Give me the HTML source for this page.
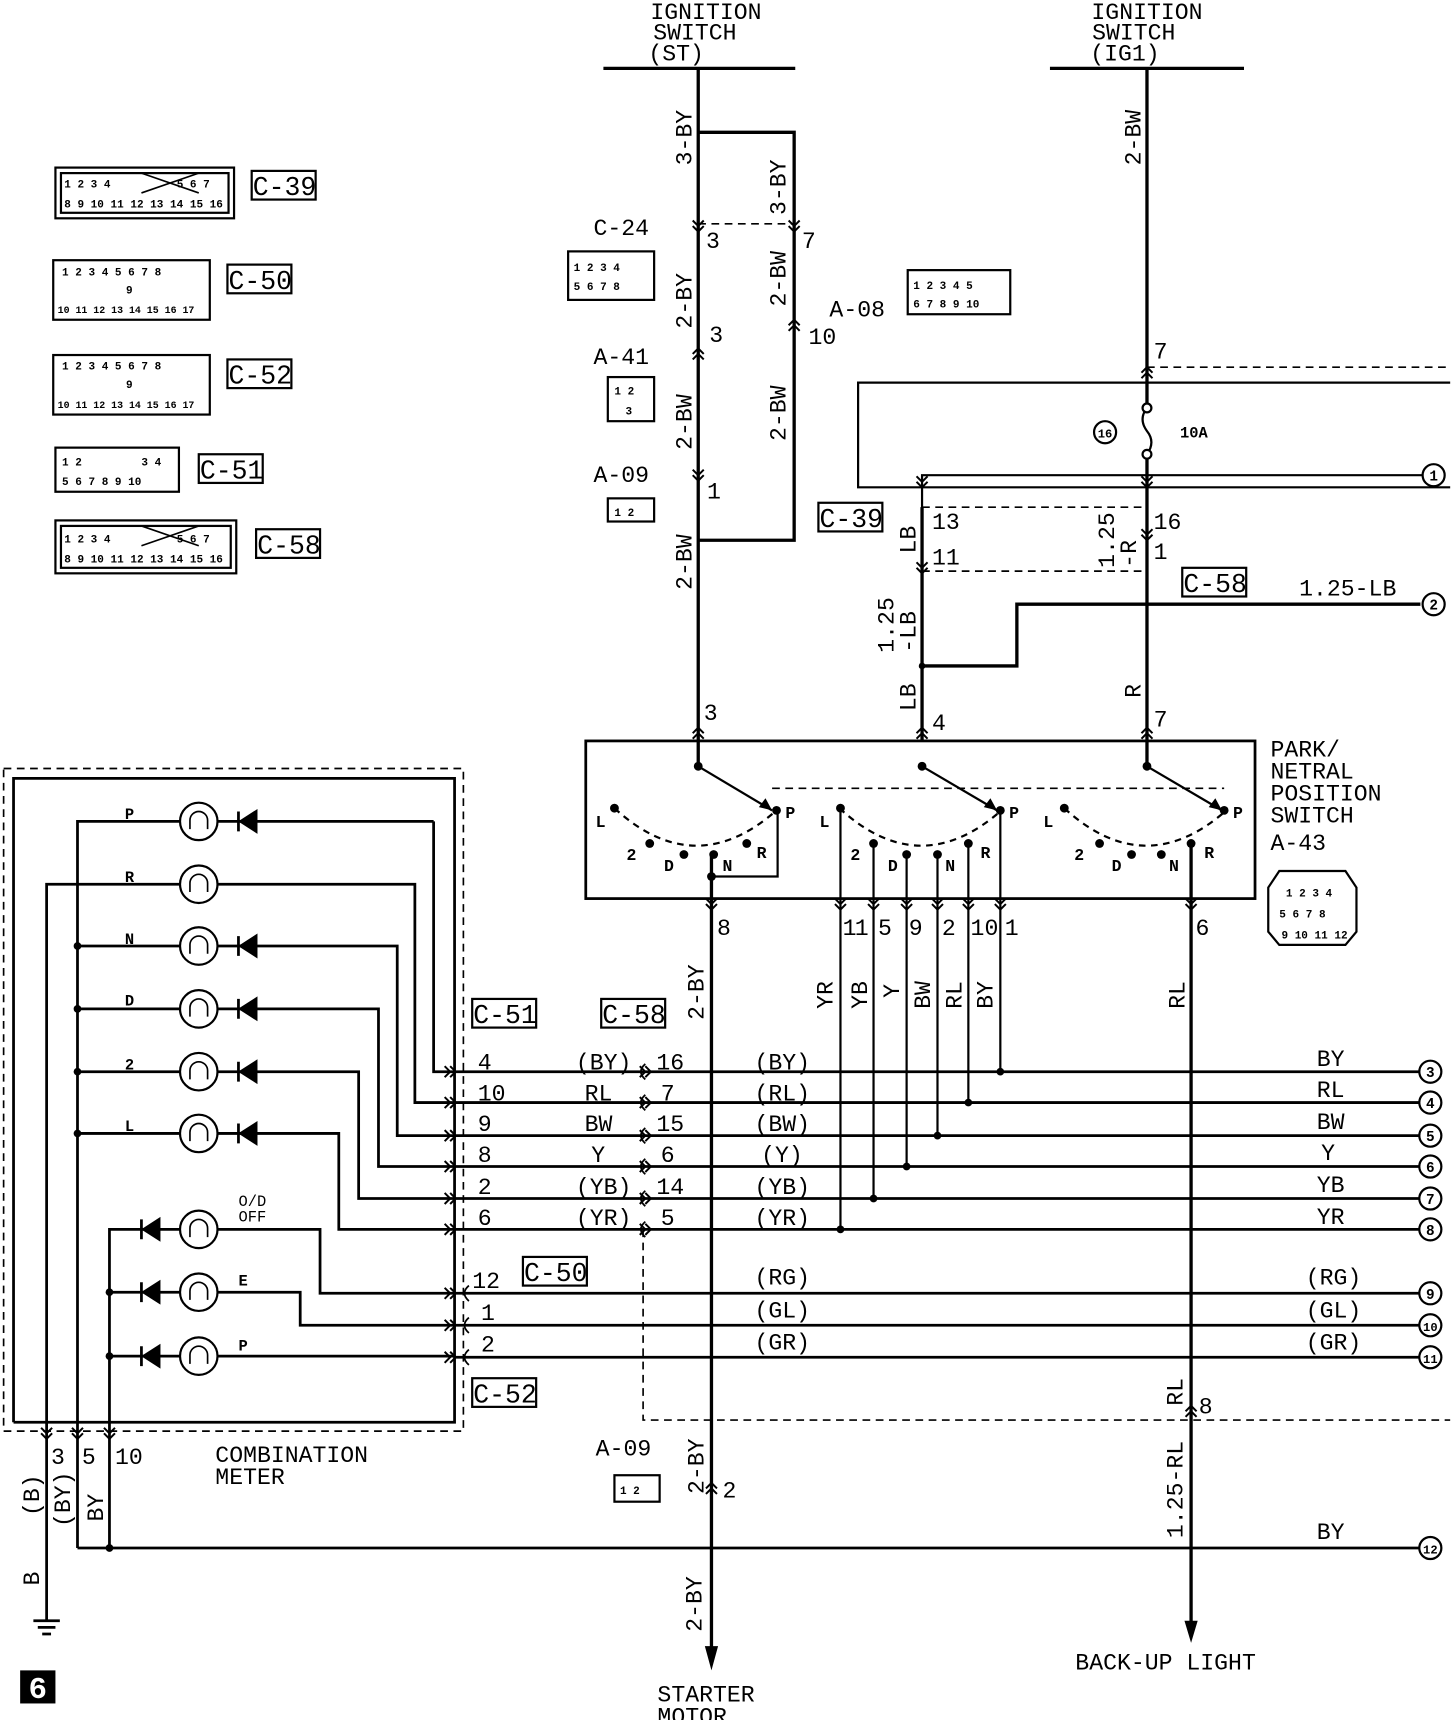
<!DOCTYPE html>
<html><head><meta charset="utf-8"><style>
html,body{margin:0;padding:0;background:#fff}
svg{display:block}
text{font-family:"Liberation Mono",monospace;fill:#000}
</style></head><body>
<svg width="1456" height="1720" viewBox="0 0 1320 1560" xmlns="http://www.w3.org/2000/svg">
<defs>
<g id="cd"><path d="M-5,-10 L0,-5 L5,-10 M-5,-5 L0,0 L5,-5" fill="none" stroke="#000" stroke-width="1.8"/></g>
<g id="cu"><path d="M-5,10 L0,5 L5,10 M-5,5 L0,0 L5,5" fill="none" stroke="#000" stroke-width="1.8"/></g>
<g id="cr"><path d="M-10,-5 L-5,0 L-10,5 M-5,-5 L0,0 L-5,5" fill="none" stroke="#000" stroke-width="1.8"/></g>
</defs>
<g stroke="#000" fill="none" stroke-width="3">
<!-- ignition ST -->
<line x1="547" y1="62" x2="721" y2="62"/>
<line x1="633" y1="62" x2="633" y2="695"/>
<polyline points="633,120 720,120 720,490 633,490"/>
<!-- IG1 -->
<line x1="952" y1="62" x2="1128" y2="62"/>
<line x1="1040" y1="62" x2="1040" y2="370"/>
<line x1="1040" y1="412" x2="1040" y2="695"/>
<line x1="1080" y1="765" x2="1080" y2="1475"/>
<line x1="645" y1="775" x2="645" y2="1500"/>
</g>
<g stroke="#000" fill="none" stroke-width="2">
<path d="M1040,370 q-8,10 0,21 q8,10 0,21"/>
<circle cx="1040" cy="370" r="4" fill="#fff"/><circle cx="1040" cy="412" r="4" fill="#fff"/>
<polyline points="1315,347 778,347 778,442 1315,442"/>
<polyline points="1290,431 836,431 836,672"/>
<polyline points="1288,548 922,548 922,604 836,604" stroke-width="3"/>
<line x1="836" y1="460" x2="836" y2="672" stroke-width="3"/>
</g>
<g stroke="#000" fill="none" stroke-width="1.5" stroke-dasharray="7,5">
<line x1="633" y1="203" x2="720" y2="203"/>
<line x1="1040" y1="333" x2="1315" y2="333"/>
<line x1="836" y1="460" x2="1040" y2="460"/>
<line x1="836" y1="518" x2="1040" y2="518"/>
<line x1="700" y1="715" x2="1110" y2="715"/>
<polyline points="583,1115 583,1288 1315,1288"/>
<rect x="3" y="697" width="417" height="601"/>
</g>
<!-- chevrons -->
<use href="#cd" x="633" y="210"/><use href="#cd" x="720" y="210"/>
<use href="#cu" x="633" y="316"/><use href="#cu" x="720" y="290"/>
<use href="#cd" x="633" y="436"/>
<use href="#cu" x="1040" y="333"/><use href="#cd" x="836" y="442"/><use href="#cd" x="1040" y="442"/>
<use href="#cd" x="836" y="520"/><use href="#cd" x="1040" y="490"/>
<use href="#cu" x="633" y="660"/><use href="#cu" x="836" y="660"/><use href="#cu" x="1040" y="660"/>
<use href="#cd" x="645" y="825"/><use href="#cd" x="762" y="825"/><use href="#cd" x="792" y="825"/><use href="#cd" x="822" y="825"/><use href="#cd" x="850" y="825"/><use href="#cd" x="878" y="825"/><use href="#cd" x="907" y="825"/><use href="#cd" x="1080" y="825"/>
<use href="#cu" x="645" y="1345"/><use href="#cu" x="1080" y="1275"/>
<use href="#cd" x="42" y="1305"/><use href="#cd" x="70" y="1305"/><use href="#cd" x="99" y="1305"/>
<path d="M645,1515 l-6,-22 h12z M1080,1490 l-6,-20 h12z"/>
<!-- switch -->
<rect x="531" y="672" width="607" height="143" fill="none" stroke="#000" stroke-width="2.5"/>
<g stroke="#000" stroke-width="2" fill="none">
<path d="M557,733 Q630,800 704,735" stroke-dasharray="6,5"/>
<path d="M761,733 Q834,800 908,735" stroke-dasharray="6,5"/>
<path d="M965,733 Q1038,800 1112,735" stroke-dasharray="6,5"/>
<line x1="633" y1="695" x2="700" y2="735"/><line x1="836" y1="695" x2="904" y2="735"/><line x1="1040" y1="695" x2="1108" y2="735"/>
<polyline points="645,795 705,795 705,735"/>
<line x1="762" y1="733" x2="762" y2="1115"/><line x1="792" y1="765" x2="792" y2="1087"/><line x1="822" y1="775" x2="822" y2="1058"/><line x1="850" y1="775" x2="850" y2="1030"/><line x1="878" y1="765" x2="878" y2="1002"/><line x1="907" y1="735" x2="907" y2="972"/>
</g>
<g fill="#000">
<circle cx="633" cy="695" r="4"/><circle cx="836" cy="695" r="4"/><circle cx="1040" cy="695" r="4"/>
<circle cx="557" cy="733" r="4"/><circle cx="589" cy="765" r="4"/><circle cx="620" cy="775" r="4"/><circle cx="647" cy="775" r="4"/><circle cx="677" cy="765" r="4"/><circle cx="704" cy="735" r="4"/><circle cx="645" cy="795" r="4"/>
<circle cx="762" cy="733" r="4"/><circle cx="792" cy="765" r="4"/><circle cx="822" cy="775" r="4"/><circle cx="850" cy="775" r="4"/><circle cx="878" cy="765" r="4"/><circle cx="907" cy="735" r="4"/>
<circle cx="965" cy="733" r="4"/><circle cx="997" cy="765" r="4"/><circle cx="1026" cy="775" r="4"/><circle cx="1053" cy="775" r="4"/><circle cx="1080" cy="765" r="4"/><circle cx="1110" cy="735" r="4"/>
<path d="M700,735 l-12,-3 l6,-8z M904,735 l-12,-3 l6,-8z M1108,735 l-12,-3 l6,-8z"/>
<circle cx="907" cy="972" r="3.5"/><circle cx="878" cy="1000" r="3.5"/><circle cx="850" cy="1030" r="3.5"/><circle cx="822" cy="1058" r="3.5"/><circle cx="792" cy="1087" r="3.5"/><circle cx="762" cy="1115" r="3.5"/>
<circle cx="70" cy="858" r="3.5"/><circle cx="70" cy="915" r="3.5"/><circle cx="70" cy="972" r="3.5"/><circle cx="70" cy="1028" r="3.5"/>
<circle cx="99" cy="1172" r="3.5"/><circle cx="99" cy="1230" r="3.5"/><circle cx="99" cy="1404" r="3.5"/>
<circle cx="836" cy="604" r="3"/>
</g>
<g font-size="15" font-weight="bold" font-family="Liberation Sans">
<text x="540" y="750">L</text><text x="568" y="780">2</text><text x="602" y="790">D</text><text x="655" y="790">N</text><text x="686" y="778">R</text><text x="712" y="742">P</text>
<text x="743" y="750">L</text><text x="771" y="780">2</text><text x="805" y="790">D</text><text x="857" y="790">N</text><text x="889" y="778">R</text><text x="915" y="742">P</text>
<text x="946" y="750">L</text><text x="974" y="780">2</text><text x="1008" y="790">D</text><text x="1060" y="790">N</text><text x="1092" y="778">R</text><text x="1118" y="742">P</text>
</g>
<!-- horizontal bus -->
<g stroke="#000" stroke-width="2.5">
<line x1="413" y1="972" x2="1288" y2="972"/><line x1="413" y1="1000" x2="1288" y2="1000"/><line x1="413" y1="1030" x2="1288" y2="1030"/><line x1="413" y1="1058" x2="1288" y2="1058"/><line x1="413" y1="1087" x2="1288" y2="1087"/><line x1="413" y1="1115" x2="1288" y2="1115"/>
<line x1="413" y1="1173" x2="1288" y2="1173"/><line x1="413" y1="1202" x2="1288" y2="1202"/><line x1="413" y1="1231" x2="1288" y2="1231"/>
<line x1="70" y1="1404" x2="1288" y2="1404"/>
</g>
<g fill="#fff" stroke="#000" stroke-width="2">
<circle cx="1300" cy="431" r="10"/><circle cx="1300" cy="548" r="10"/>
<circle cx="1297" cy="972" r="10"/><circle cx="1297" cy="1000" r="10"/><circle cx="1297" cy="1030" r="10"/><circle cx="1297" cy="1058" r="10"/><circle cx="1297" cy="1087" r="10"/><circle cx="1297" cy="1115" r="10"/><circle cx="1297" cy="1173" r="10"/><circle cx="1297" cy="1202" r="10"/><circle cx="1297" cy="1231" r="10"/><circle cx="1297" cy="1404" r="10"/>
<circle cx="1002" cy="392" r="10"/>
</g>
<g font-size="13" font-family="Liberation Sans" font-weight="bold" text-anchor="middle">
<text x="1300" y="436">1</text><text x="1300" y="553">2</text><text x="1297" y="977">3</text><text x="1297" y="1005">4</text><text x="1297" y="1035">5</text><text x="1297" y="1063">6</text><text x="1297" y="1092">7</text><text x="1297" y="1120">8</text><text x="1297" y="1178">9</text><text x="1297" y="1207" font-size="11">10</text><text x="1297" y="1236" font-size="11">11</text><text x="1297" y="1409" font-size="11">12</text><text x="1002" y="397" font-size="11">16</text>
</g>
<g stroke="#000" stroke-width="1.6">
<path d="M585,965 q-8,7 0,14 M585,993 q-8,7 0,14 M585,1023 q-8,7 0,14 M585,1051 q-8,7 0,14 M585,1080 q-8,7 0,14 M585,1108 q-8,7 0,14" fill="none"/>
<path d="M425,1166 q-8,7 0,14 M425,1195 q-8,7 0,14 M425,1224 q-8,7 0,14" fill="none"/>
</g>
<use href="#cr" x="413" y="972"/><use href="#cr" x="413" y="1000"/><use href="#cr" x="413" y="1030"/><use href="#cr" x="413" y="1058"/><use href="#cr" x="413" y="1087"/><use href="#cr" x="413" y="1115"/>
<use href="#cr" x="590" y="972"/><use href="#cr" x="590" y="1000"/><use href="#cr" x="590" y="1030"/><use href="#cr" x="590" y="1058"/><use href="#cr" x="590" y="1087"/><use href="#cr" x="590" y="1115"/>
<use href="#cr" x="413" y="1173"/><use href="#cr" x="413" y="1202"/><use href="#cr" x="413" y="1231"/>
<!-- meter -->
<g stroke="#000" stroke-width="2.5" fill="none">
<polyline points="12,1290 12,706 412,706 412,1290 12,1290"/>
<polyline points="70,1404 70,745 165,745"/><line x1="195" y1="745" x2="393" y2="745"/><polyline points="393,745 393,972 413,972"/>
<polyline points="42,1470 42,802 165,802"/><polyline points="195,802 376,802 376,1000 413,1000"/>
<line x1="70" y1="858" x2="165" y2="858"/><polyline points="195,858 360,858 360,1030 413,1030"/>
<line x1="70" y1="915" x2="165" y2="915"/><polyline points="195,915 343,915 343,1058 413,1058"/>
<line x1="70" y1="972" x2="165" y2="972"/><polyline points="195,972 325,972 325,1087 413,1087"/>
<line x1="70" y1="1028" x2="165" y2="1028"/><polyline points="195,1028 307,1028 307,1115 413,1115"/>
<polyline points="99,1404 99,1115 165,1115"/><polyline points="195,1115 290,1115 290,1173 413,1173"/>
<line x1="99" y1="1172" x2="165" y2="1172"/><polyline points="195,1172 272,1172 272,1202 413,1202"/>
<line x1="99" y1="1230" x2="165" y2="1230"/><line x1="195" y1="1230" x2="413" y2="1230"/>
<path d="M30,1470 h24 M34,1476 h16 M38,1482 h8"/>
</g>
<g stroke="#000" stroke-width="2" fill="#fff">
<circle cx="180" cy="745" r="17"/><circle cx="180" cy="802" r="17"/><circle cx="180" cy="858" r="17"/><circle cx="180" cy="915" r="17"/><circle cx="180" cy="972" r="17"/><circle cx="180" cy="1028" r="17"/>
<circle cx="180" cy="1115" r="17"/><circle cx="180" cy="1172" r="17"/><circle cx="180" cy="1230" r="17"/>
</g>
<g stroke="#000" stroke-width="1.5" fill="none">
<path d="M172,752 v-8 a8,8 0 0 1 16,0 v8 M172,809 v-8 a8,8 0 0 1 16,0 v8 M172,865 v-8 a8,8 0 0 1 16,0 v8 M172,922 v-8 a8,8 0 0 1 16,0 v8 M172,979 v-8 a8,8 0 0 1 16,0 v8 M172,1035 v-8 a8,8 0 0 1 16,0 v8 M172,1122 v-8 a8,8 0 0 1 16,0 v8 M172,1179 v-8 a8,8 0 0 1 16,0 v8 M172,1237 v-8 a8,8 0 0 1 16,0 v8"/>
</g>
<g fill="#000" stroke="#000" stroke-width="2.5">
<path d="M218,745 l14,-9 v18z M216,736 v18" />
<path d="M218,858 l14,-9 v18z M216,849 v18"/>
<path d="M218,915 l14,-9 v18z M216,906 v18"/>
<path d="M218,972 l14,-9 v18z M216,963 v18"/>
<path d="M218,1028 l14,-9 v18z M216,1019 v18"/>
<path d="M130,1115 l14,-9 v18z M128,1106 v18"/>
<path d="M130,1172 l14,-9 v18z M128,1163 v18"/>
<path d="M130,1230 l14,-9 v18z M128,1221 v18"/>
</g>
<rect x="18" y="1515" width="32" height="30" fill="#000"/>
<text x="34" y="1540" font-size="28" font-weight="bold" text-anchor="middle" font-family="Liberation Sans" style="fill:#fff">6</text>
<!-- connector icons -->
<g stroke="#000" stroke-width="2" fill="#fff">
<rect x="50" y="152" width="162" height="46"/><rect x="55" y="157" width="152" height="36"/>
<rect x="48" y="236" width="142" height="54"/><rect x="48" y="322" width="142" height="54"/>
<rect x="50" y="406" width="112" height="40"/>
<rect x="50" y="472" width="164" height="48"/><rect x="55" y="477" width="154" height="38"/>
<rect x="515" y="228" width="78" height="44"/><rect x="551" y="342" width="42" height="40"/><rect x="551" y="452" width="42" height="21"/><rect x="823" y="245" width="93" height="40"/>
<rect x="557" y="1338" width="41" height="24"/>
<path d="M1160,790 h60 l10,15 v40 l-10,12 h-60 l-10,-12 v-40z"/>
</g>
<g font-size="10" font-family="Liberation Sans" font-weight="bold" fill="#000">
<text x="58" y="170">1 2 3 4</text><text x="160" y="170">5 6 7</text><text x="58" y="188">8 9 10 11 12 13 14 15 16</text>
<text x="56" y="250">1 2 3 4 5 6 7 8</text><text x="114" y="266">9</text><text x="52" y="284" font-size="9">10 11 12 13 14 15 16 17</text>
<text x="56" y="335">1 2 3 4 5 6 7 8</text><text x="114" y="352">9</text><text x="52" y="370" font-size="9">10 11 12 13 14 15 16 17</text>
<text x="56" y="422">1 2</text><text x="128" y="422">3 4</text><text x="56" y="440">5 6 7 8 9 10</text>
<text x="58" y="492">1 2 3 4</text><text x="160" y="492">5 6 7</text><text x="58" y="510">8 9 10 11 12 13 14 15 16</text>
<text x="520" y="246">1 2 3 4</text><text x="520" y="263">5 6 7 8</text>
<text x="557" y="358">1 2</text><text x="567" y="376">3</text><text x="557" y="468">1 2</text><text x="562" y="1355">1 2</text>
<text x="828" y="262">1 2 3 4 5</text><text x="828" y="279">6 7 8 9 10</text>
<text x="1166" y="813">1 2 3 4</text><text x="1160" y="832">5 6 7 8</text><text x="1162" y="851">9 10 11 12</text>
</g>
<g stroke="#000" stroke-width="1.5" fill="none">
<line x1="128" y1="157" x2="180" y2="175"/><line x1="128" y1="175" x2="180" y2="157"/>
<line x1="128" y1="477" x2="180" y2="495"/><line x1="128" y1="495" x2="180" y2="477"/>
</g>
<!-- connector label boxes -->
<g stroke="#000" stroke-width="2" fill="#fff">
<rect x="228" y="155" width="58" height="26"/><rect x="206" y="240" width="58" height="26"/><rect x="206" y="326" width="58" height="26"/><rect x="180" y="412" width="58" height="26"/><rect x="232" y="480" width="58" height="26"/>
<rect x="742" y="456" width="58" height="26"/><rect x="1072" y="515" width="58" height="26"/>
<rect x="428" y="906" width="58" height="26"/><rect x="545" y="906" width="58" height="26"/><rect x="474" y="1140" width="58" height="26"/><rect x="428" y="1250" width="58" height="26"/>
</g>
<g font-size="24" font-family="Liberation Mono" >
<text x="229" y="177">C-39</text><text x="207" y="262">C-50</text><text x="207" y="348">C-52</text><text x="181" y="434">C-51</text><text x="233" y="502">C-58</text>
<text x="743" y="478">C-39</text><text x="1073" y="537">C-58</text>
<text x="429" y="928">C-51</text><text x="546" y="928">C-58</text><text x="475" y="1162">C-50</text><text x="429" y="1272">C-52</text>
</g>
<g font-size="21" font-family="Liberation Mono">
<text x="640" y="17" text-anchor="middle">IGNITION</text><text x="630" y="36" text-anchor="middle">SWITCH</text><text x="613" y="55" text-anchor="middle">(ST)</text>
<text x="1040" y="17" text-anchor="middle">IGNITION</text><text x="1028" y="36" text-anchor="middle">SWITCH</text><text x="1020" y="55" text-anchor="middle">(IG1)</text>
<text x="538" y="213">C-24</text><text x="538" y="330">A-41</text><text x="538" y="437">A-09</text><text x="752" y="287">A-08</text><text x="540" y="1320">A-09</text>
<text x="640" y="225">3</text><text x="727" y="225">7</text><text x="643" y="310">3</text><text x="733" y="312">10</text><text x="641" y="452">1</text><text x="638" y="653">3</text>
<text x="1046" y="325">7</text><text x="845" y="480">13</text><text x="845" y="512">11</text><text x="1046" y="480">16</text><text x="1046" y="507">1</text><text x="845" y="662">4</text><text x="1046" y="659">7</text>
<text x="1178" y="540">1.25-LB</text>
<text x="1152" y="686">PARK/</text><text x="1152" y="706">NETRAL</text><text x="1152" y="726">POSITION</text><text x="1152" y="746">SWITCH</text><text x="1152" y="771">A-43</text>
<text x="650" y="848">8</text><text x="764" y="848">1</text><text x="775" y="848">1</text><text x="796" y="848">5</text><text x="824" y="848">9</text><text x="854" y="848">2</text><text x="880" y="848">10</text><text x="911" y="848">1</text><text x="1084" y="848">6</text>
<text x="433" y="970">4</text><text x="433" y="998">10</text><text x="433" y="1026">9</text><text x="433" y="1054">8</text><text x="433" y="1083">2</text><text x="433" y="1111">6</text>
<text x="522" y="970">(BY)</text><text x="530" y="998">RL</text><text x="530" y="1026">BW</text><text x="536" y="1054">Y</text><text x="522" y="1083">(YB)</text><text x="522" y="1111">(YR)</text>
<text x="595" y="970">16</text><text x="599" y="998">7</text><text x="595" y="1026">15</text><text x="599" y="1054">6</text><text x="595" y="1083">14</text><text x="599" y="1111">5</text>
<text x="684" y="970">(BY)</text><text x="684" y="998">(RL)</text><text x="684" y="1026">(BW)</text><text x="690" y="1054">(Y)</text><text x="684" y="1083">(YB)</text><text x="684" y="1111">(YR)</text>
<text x="1194" y="967">BY</text><text x="1194" y="995">RL</text><text x="1194" y="1024">BW</text><text x="1198" y="1052">Y</text><text x="1194" y="1081">YB</text><text x="1194" y="1110">YR</text>
<text x="428" y="1168">12</text><text x="436" y="1197">1</text><text x="436" y="1226">2</text>
<text x="684" y="1165">(RG)</text><text x="684" y="1195">(GL)</text><text x="684" y="1224">(GR)</text>
<text x="1184" y="1165">(RG)</text><text x="1184" y="1195">(GL)</text><text x="1184" y="1224">(GR)</text>
<text x="1194" y="1396">BY</text><text x="1087" y="1282">8</text><text x="655" y="1358">2</text>
<text x="46" y="1328">3</text><text x="74" y="1328">5</text><text x="104" y="1328">10</text>
<text x="195" y="1326">COMBINATION</text><text x="195" y="1346">METER</text>
<text x="596" y="1543">STARTER</text><text x="596" y="1563">MOTOR</text>
<text x="975" y="1514">BACK-UP LIGHT</text>
</g>
<g font-size="14" font-family="Liberation Sans" font-weight="bold">
<text x="1070" y="397">10A</text>
<text x="113" y="743">P</text><text x="113" y="800">R</text><text x="113" y="856">N</text><text x="113" y="912">D</text><text x="113" y="970">2</text><text x="113" y="1026">L</text>
<text x="216" y="1094" font-family="Liberation Mono" font-weight="normal">O/D</text><text x="216" y="1108" font-family="Liberation Mono" font-weight="normal">OFF</text><text x="216" y="1166">E</text><text x="216" y="1225">P</text>
</g>
<!-- vertical labels -->
<g font-size="21" font-family="Liberation Mono">
<text transform="translate(627,150) rotate(-90)">3-BY</text>
<text transform="translate(712,195) rotate(-90)">3-BY</text>
<text transform="translate(627,298) rotate(-90)">2-BY</text>
<text transform="translate(712,278) rotate(-90)">2-BW</text>
<text transform="translate(627,408) rotate(-90)">2-BW</text>
<text transform="translate(712,400) rotate(-90)">2-BW</text>
<text transform="translate(627,535) rotate(-90)">2-BW</text>
<text transform="translate(1034,150) rotate(-90)">2-BW</text>
<text transform="translate(830,502) rotate(-90)">LB</text>
<text transform="translate(1010,515) rotate(-90)">1.25</text>
<text transform="translate(1030,515) rotate(-90)">-R</text>
<text transform="translate(810,592) rotate(-90)">1.25</text>
<text transform="translate(830,592) rotate(-90)">-LB</text>
<text transform="translate(830,645) rotate(-90)">LB</text>
<text transform="translate(1034,633) rotate(-90)">R</text>
<text transform="translate(638,925) rotate(-90)">2-BY</text>
<text transform="translate(755,915) rotate(-90)">YR</text>
<text transform="translate(786,915) rotate(-90)">YB</text>
<text transform="translate(815,905) rotate(-90)">Y</text>
<text transform="translate(843,915) rotate(-90)">BW</text>
<text transform="translate(872,915) rotate(-90)">RL</text>
<text transform="translate(900,915) rotate(-90)">BY</text>
<text transform="translate(1074,915) rotate(-90)">RL</text>
<text transform="translate(1072,1275) rotate(-90)">RL</text>
<text transform="translate(1072,1395) rotate(-90)">1.25-RL</text>
<text transform="translate(638,1355) rotate(-90)">2-BY</text>
<text transform="translate(636,1480) rotate(-90)">2-BY</text>
<text transform="translate(35,1375) rotate(-90)">(B)</text>
<text transform="translate(63,1385) rotate(-90)">(BY)</text>
<text transform="translate(93,1380) rotate(-90)">BY</text>
<text transform="translate(35,1438) rotate(-90)">B</text>
</g>
</svg>
</body></html>
